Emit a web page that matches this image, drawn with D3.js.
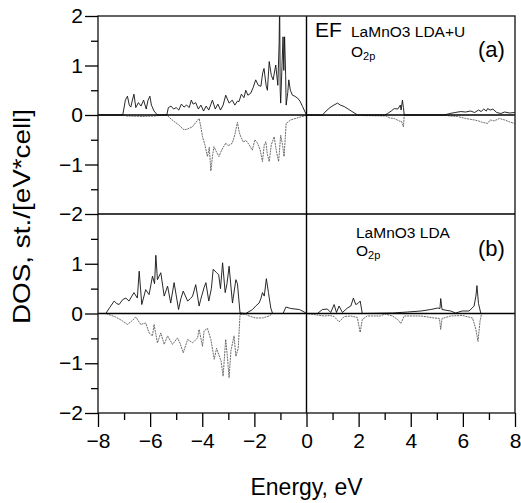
<!DOCTYPE html>
<html>
<head>
<meta charset="utf-8">
<script src="https://cdn.jsdelivr.net/npm/d3@7"></script>
<style>
  html, body { margin: 0; padding: 0; background: #fff; }
  svg { display: block; font-family: "Liberation Sans", Arial, Helvetica, sans-serif; }
</style>
</head>
<body>
<svg id="chart" width="521" height="503"></svg>
<script>
// ---- data (Energy eV, DOS) ----
const xMajorTicks = [-8, -6, -4, -2, 0, 2, 4, 6, 8];
const xMinorTicks = [-7, -5, -3, -1, 1, 3, 5, 7];
const yTicksA = [-2, -1, 0, 1, 2];
const yTicksB = [-2, -1, 0, 1];
const yMinorTicks = [-1.5, -0.5, 0.5, 1.5];

const panelALabels = ["LaMnO3 LDA+U", "(a)"];
const panelBLabels = ["LaMnO3 LDA", "(b)"];

const aUp = [[-8,0],[-7.05,0],[-6.95,0.3],[-6.87,0.38],[-6.8,0.2],[-6.74,0.16],[-6.68,0.3],[-6.62,0.42],[-6.55,0.15],[-6.45,0.25],[-6.35,0.18],[-6.25,0.3],[-6.15,0.12],[-6.08,0.3],[-6.01,0.38],[-5.95,0.2],[-5.85,0.08],[-5.72,0],[-5.36,0],[-5.3,0.15],[-5.2,0.18],[-5.1,0.12],[-5.0,0.15],[-4.9,0.1],[-4.8,0.22],[-4.7,0.16],[-4.6,0.2],[-4.5,0.15],[-4.42,0.3],[-4.35,0.22],[-4.25,0.25],[-4.15,0.12],[-4.05,0.2],[-3.95,0.08],[-3.85,0.18],[-3.75,0.1],[-3.61,0.3],[-3.5,0.12],[-3.4,0.22],[-3.3,0.1],[-3.2,0.2],[-3.1,0.4],[-2.97,0.24],[-2.85,0.3],[-2.75,0.2],[-2.65,0.28],[-2.59,0.27],[-2.5,0.42],[-2.4,0.35],[-2.33,0.5],[-2.25,0.4],[-2.14,0.44],[-2.05,0.55],[-1.95,0.71],[-1.85,0.6],[-1.75,0.58],[-1.68,0.85],[-1.63,0.94],[-1.55,0.6],[-1.5,0.5],[-1.43,1.08],[-1.35,0.8],[-1.28,0.71],[-1.18,1.01],[-1.1,0.6],[-1.05,1.45],[-1.03,2.3],[-1.01,0.5],[-0.99,0.24],[-0.94,1.0],[-0.9,1.58],[-0.87,0.9],[-0.84,1.58],[-0.8,0.8],[-0.78,0.2],[-0.72,0.45],[-0.68,0.71],[-0.62,0.5],[-0.54,0.4],[-0.45,0.38],[-0.34,0.34],[-0.25,0.28],[-0.15,0.17],[-0.02,0.02],[0,0],[0.61,0],[0.75,0.08],[0.9,0.15],[1.05,0.2],[1.19,0.24],[1.3,0.2],[1.45,0.17],[1.6,0.12],[1.75,0.07],[1.96,0],[3.0,0],[3.11,0.03],[3.25,0.08],[3.37,0.13],[3.5,0.12],[3.6,0.2],[3.63,0.1],[3.68,0.30],[3.72,0.15],[3.75,0],[5.28,0],[5.5,0.03],[5.7,0.05],[5.92,0.07],[6.1,0.06],[6.3,0.08],[6.45,0.05],[6.6,0.1],[6.7,0.07],[6.8,0.12],[6.9,0.08],[6.95,0.13],[7.05,0.1],[7.15,0.12],[7.3,0.05],[7.46,0.03],[7.6,0.06],[7.8,0.04],[7.97,0.05],[8,0.05]];

const aDown = [[-8,0],[-7.05,0],[-6.9,-0.02],[-6.3,-0.03],[-5.8,-0.02],[-5.5,0],[-5.36,0],[-5.2,-0.08],[-5.08,-0.13],[-4.9,-0.2],[-4.7,-0.30],[-4.55,-0.28],[-4.38,-0.24],[-4.2,-0.12],[-4.12,-0.07],[-4.05,-0.25],[-3.99,-0.44],[-3.9,-0.6],[-3.8,-0.84],[-3.73,-0.65],[-3.67,-1.13],[-3.6,-0.8],[-3.55,-0.64],[-3.45,-0.75],[-3.36,-0.84],[-3.25,-0.7],[-3.1,-0.57],[-3.0,-0.62],[-2.85,-0.57],[-2.75,-0.4],[-2.65,-0.15],[-2.58,-0.35],[-2.52,-0.44],[-2.42,-0.55],[-2.33,-0.51],[-2.2,-0.6],[-2.08,-0.71],[-1.98,-0.5],[-1.88,-0.57],[-1.78,-0.7],[-1.69,-0.94],[-1.62,-0.6],[-1.56,-0.54],[-1.5,-0.8],[-1.43,-0.94],[-1.35,-0.6],[-1.24,-0.44],[-1.15,-0.75],[-1.07,-0.94],[-0.99,-0.41],[-0.92,-0.6],[-0.86,-0.84],[-0.78,-0.17],[-0.61,-0.10],[-0.3,-0.05],[-0.02,-0.01],[0,0],[0.6,-0.01],[2.0,-0.01],[3.05,-0.02],[3.2,-0.06],[3.37,-0.07],[3.55,-0.12],[3.65,-0.13],[3.72,-0.24],[3.75,0],[5.28,0],[5.5,-0.02],[5.79,-0.03],[6.1,-0.07],[6.44,-0.1],[6.6,-0.12],[6.75,-0.15],[6.95,-0.17],[7.05,-0.1],[7.2,-0.12],[7.4,-0.07],[7.6,-0.1],[7.8,-0.14],[7.97,-0.17],[8,-0.17]];

const bUp = [[-8,0],[-7.7,0],[-7.55,0.12],[-7.38,0.25],[-7.28,0.2],[-7.19,0.18],[-7.05,0.28],[-6.93,0.31],[-6.81,0.25],[-6.7,0.35],[-6.62,0.42],[-6.49,0.31],[-6.42,0.85],[-6.32,0.18],[-6.17,0.48],[-6.04,0.38],[-5.91,0.75],[-5.83,0.6],[-5.78,1.17],[-5.72,0.68],[-5.59,0.82],[-5.46,0.35],[-5.33,0.55],[-5.21,0.21],[-5.08,0.62],[-4.91,0.08],[-4.82,0.3],[-4.73,0.45],[-4.56,0.25],[-4.45,0.3],[-4.37,0.35],[-4.25,0.58],[-4.12,0.15],[-4.06,0.28],[-3.93,0.52],[-3.86,0.62],[-3.75,0.25],[-3.65,0.5],[-3.58,0.89],[-3.45,0.82],[-3.37,0.78],[-3.3,0.5],[-3.22,1.02],[-3.12,0.42],[-3.05,0.6],[-2.97,0.95],[-2.84,0.21],[-2.71,0.68],[-2.65,0.6],[-2.55,0.01],[-2.33,0],[-2.07,0.08],[-1.95,0.15],[-1.82,0.21],[-1.75,0.3],[-1.69,0.42],[-1.62,0.35],[-1.54,0.70],[-1.46,0.42],[-1.37,0.11],[-1.30,0],[-0.90,0],[-0.79,0.13],[-0.6,0.1],[-0.27,0.08],[-0.02,0.01],[0,0],[0.42,0],[0.61,0.08],[0.80,0.09],[0.93,0.02],[1.06,0.18],[1.15,0.02],[1.25,0.15],[1.38,0.02],[1.57,0.11],[1.70,0.15],[1.80,0.31],[1.89,0.18],[1.97,0.2],[2.06,0.25],[2.14,0],[3.3,0.01],[3.88,0.03],[4.39,0.05],[4.77,0.08],[5.03,0.11],[5.12,0.1],[5.15,0.30],[5.2,0.08],[5.53,0.05],[5.72,0.01],[5.98,0.05],[6.24,0.05],[6.43,0.15],[6.50,0.35],[6.54,0.56],[6.6,0.2],[6.69,0],[8,0]];

const bDown = [[-8,0],[-7.7,0],[-7.32,-0.07],[-7.06,-0.15],[-6.87,-0.22],[-6.7,-0.15],[-6.55,-0.07],[-6.36,-0.22],[-6.17,-0.19],[-6.04,-0.39],[-5.91,-0.45],[-5.85,-0.22],[-5.72,-0.59],[-5.59,-0.39],[-5.46,-0.62],[-5.33,-0.45],[-5.14,-0.62],[-4.95,-0.49],[-4.85,-0.6],[-4.73,-0.79],[-4.56,-0.52],[-4.37,-0.59],[-4.18,-0.49],[-4.12,-0.32],[-3.99,-0.66],[-3.93,-0.35],[-3.8,-0.3],[-3.67,-0.52],[-3.54,-0.92],[-3.45,-0.7],[-3.37,-0.82],[-3.28,-0.95],[-3.20,-1.26],[-3.10,-0.52],[-3.03,-0.9],[-2.97,-1.29],[-2.90,-0.75],[-2.78,-0.45],[-2.71,-0.86],[-2.62,-0.7],[-2.55,-0.02],[-2.33,-0.02],[-2.15,-0.06],[-1.95,-0.09],[-1.69,-0.09],[-1.43,-0.05],[-1.30,0],[0,0],[0.67,-0.05],[0.9,-0.04],[1.06,-0.06],[1.25,-0.17],[1.45,-0.06],[1.70,-0.05],[1.95,-0.08],[2.06,-0.38],[2.14,-0.12],[2.33,-0.05],[2.84,-0.05],[3.0,-0.01],[3.3,-0.05],[3.5,-0.12],[3.62,-0.2],[3.75,-0.05],[4.39,-0.05],[4.9,-0.09],[5.1,-0.1],[5.15,-0.32],[5.2,-0.1],[5.53,-0.05],[5.98,-0.04],[6.37,-0.09],[6.50,-0.32],[6.58,-0.56],[6.66,-0.15],[6.72,0],[8,0]];

// ---- layout ----
const L = 98, R = 515, T = 16, M = 214, B = 413;
const svg = d3.select("#chart");
const x = d3.scaleLinear().domain([-8, 8]).range([L, R]);
const yA = d3.scaleLinear().domain([-2, 2]).range([M, T]);
const yB = d3.scaleLinear().domain([-2, 2]).range([B, M]);

const defs = svg.append("defs");
defs.append("clipPath").attr("id", "clipA").append("rect")
  .attr("x", L).attr("y", T).attr("width", R - L).attr("height", M - T);
defs.append("clipPath").attr("id", "clipB").append("rect")
  .attr("x", L).attr("y", M).attr("width", R - L).attr("height", B - M);

function drawSeries(data, y, clip, color, width, dash) {
  const line = d3.line().x(d => x(d[0])).y(d => y(d[1]));
  const p = svg.append("path").datum(data)
    .attr("clip-path", `url(#${clip})`)
    .attr("d", line).attr("fill", "none")
    .attr("stroke", color).attr("stroke-width", width)
    .attr("stroke-linejoin", "round");
  if (dash) p.attr("stroke-dasharray", dash);
}

drawSeries(aDown, yA, "clipA", "#5a5a5a", 0.9, "2,0.8");
drawSeries(bDown, yB, "clipB", "#5a5a5a", 0.9, "2,0.8");
drawSeries(aUp, yA, "clipA", "#111", 0.9, null);
drawSeries(bUp, yB, "clipB", "#111", 0.9, null);

// zero lines and frame
svg.append("line").attr("x1", L).attr("x2", R).attr("y1", yA(0)).attr("y2", yA(0))
  .attr("stroke", "#000").attr("stroke-width", 1.4);
svg.append("line").attr("x1", L).attr("x2", R).attr("y1", yB(0)).attr("y2", yB(0))
  .attr("stroke", "#000").attr("stroke-width", 1.4);
svg.append("line").attr("x1", x(0)).attr("x2", x(0)).attr("y1", T).attr("y2", B)
  .attr("stroke", "#000").attr("stroke-width", 1.4);
svg.append("rect").attr("x", L).attr("y", T).attr("width", R - L).attr("height", B - T)
  .attr("fill", "none").attr("stroke", "#222").attr("stroke-width", 1.4);
svg.append("line").attr("x1", L).attr("x2", R).attr("y1", M).attr("y2", M)
  .attr("stroke", "#000").attr("stroke-width", 1.4);

// axes
function styleAxis(g, fs) {
  g.select(".domain").remove();
  g.selectAll(".tick line").attr("stroke", "#000").attr("stroke-width", 1.3);
  g.selectAll(".tick text").attr("fill", "#000").attr("font-size", fs)
    .attr("font-family", "'Liberation Sans', Arial, sans-serif");
}
const yAxisA = d3.axisLeft(yA).tickValues(yTicksA).tickSize(13).tickPadding(2).tickFormat(d3.format("d"));
const yAxisB = d3.axisLeft(yB).tickValues(yTicksB).tickSize(13).tickPadding(2).tickFormat(d3.format("d"));
const yMinA = d3.axisLeft(yA).tickValues(yMinorTicks).tickSize(7).tickFormat("");
const yMinB = d3.axisLeft(yB).tickValues(yMinorTicks).tickSize(7).tickFormat("");
svg.append("g").attr("transform", `translate(${L},0)`).call(yAxisA).call(g => styleAxis(g, 21));
svg.append("g").attr("transform", `translate(${L},0)`).call(yAxisB).call(g => styleAxis(g, 21));
svg.append("g").attr("transform", `translate(${L},0)`).call(yMinA).call(g => styleAxis(g, 21));
svg.append("g").attr("transform", `translate(${L},0)`).call(yMinB).call(g => styleAxis(g, 21));

const xAxis = d3.axisBottom(x).tickValues(xMajorTicks).tickSize(14).tickPadding(6).tickFormat(d3.format("d"));
const xMin = d3.axisBottom(x).tickValues(xMinorTicks).tickSize(7).tickFormat("");
svg.append("g").attr("transform", `translate(0,${B})`).call(xAxis).call(g => styleAxis(g, 21));
svg.append("g").attr("transform", `translate(0,${B})`).call(xMin).call(g => styleAxis(g, 21));

// axis titles
svg.append("text").attr("x", x(0)).attr("y", 495).attr("text-anchor", "middle")
  .attr("font-size", 23).attr("fill", "#000").text("Energy, eV");
svg.append("text").attr("transform", `translate(30,${(108 + 325) / 2}) rotate(-90)`)
  .attr("text-anchor", "middle").attr("font-size", 24).attr("fill", "#000")
  .attr("textLength", 215).attr("lengthAdjust", "spacingAndGlyphs")
  .text("DOS, st./[eV*cell]");

// panel labels
svg.append("text").attr("x", 315).attr("y", 37).attr("font-size", 21).attr("fill", "#000").text("EF");
svg.append("text").attr("x", 351).attr("y", 37).attr("font-size", 15.5).attr("fill", "#000").text(panelALabels[0]);
const oa = svg.append("text").attr("x", 351).attr("y", 57).attr("font-size", 15.5).attr("fill", "#000");
oa.append("tspan").text("O");
oa.append("tspan").attr("font-size", 11).attr("dy", 3).text("2p");
svg.append("text").attr("x", 478).attr("y", 57).attr("font-size", 22).attr("fill", "#000").text(panelALabels[1]);

svg.append("text").attr("x", 356).attr("y", 238).attr("font-size", 15.5).attr("fill", "#000").text(panelBLabels[0]);
const ob = svg.append("text").attr("x", 356).attr("y", 256).attr("font-size", 15.5).attr("fill", "#000");
ob.append("tspan").text("O");
ob.append("tspan").attr("font-size", 11).attr("dy", 3).text("2p");
svg.append("text").attr("x", 478).attr("y", 256).attr("font-size", 22).attr("fill", "#000").text(panelBLabels[1]);
</script>
</body>
</html>
